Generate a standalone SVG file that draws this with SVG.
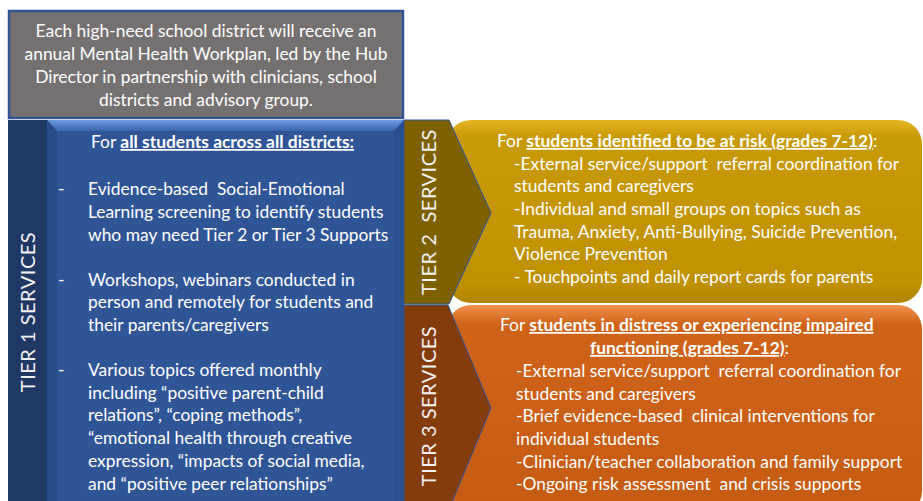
<svg xmlns="http://www.w3.org/2000/svg" width="923" height="501" viewBox="0 0 923 501">
<defs>
<style>
text{font-family:Lato,"Liberation Sans",sans-serif;fill:#ffffff;white-space:pre;}
.b{font-size:17.4px;}
.h{font-size:17.4px;}
.u{font-weight:bold;text-decoration:underline;}
.tier{font-size:20px;fill:#f2f2f2;letter-spacing:0.5px;}
</style>
<linearGradient id="gold" x1="0" y1="0" x2="0" y2="1">
<stop offset="0" stop-color="#e6b524"/>
<stop offset="0.09" stop-color="#c99a08"/>
<stop offset="0.9" stop-color="#bf9000"/>
<stop offset="1" stop-color="#b08400"/>
</linearGradient>
<linearGradient id="orange" x1="0" y1="0" x2="0" y2="1">
<stop offset="0" stop-color="#f2914a"/>
<stop offset="0.09" stop-color="#cf6419"/>
<stop offset="1" stop-color="#c55a11"/>
</linearGradient>
<linearGradient id="bevelTop" x1="0" y1="0" x2="0" y2="1">
<stop offset="0" stop-color="#6f9be0"/>
<stop offset="1" stop-color="#3a64ad"/>
</linearGradient>
</defs>
<g id="header"><rect x="9" y="11" width="394" height="107" fill="#767171" stroke="#2f5597" stroke-width="2.5"/><text class="h" text-anchor="middle" x="206" y="37">Each high-need school district will receive an</text><text class="h" text-anchor="middle" x="206" y="60">annual Mental Health Workplan, led by the Hub</text><text class="h" text-anchor="middle" x="206" y="83">Director in partnership with clinicians, school</text><text class="h" text-anchor="middle" x="206" y="106">districts and advisory group.</text></g>
<g id="tier3"><rect x="447" y="305" width="475" height="210" rx="24" fill="url(#orange)"/><polygon points="404,305 448,305 491,408 448,512 404,512" fill="#843c0c" stroke="#2f5597" stroke-width="1"/><text class="tier" transform="translate(436,406) rotate(-90)" text-anchor="middle">TIER 3 SERVICES</text><text class="b" x="500" y="331">For <tspan class="u">students in distress or experiencing impaired</tspan></text><text class="b" x="590" y="354"><tspan class="u">functioning (grades 7-12)</tspan>:</text><text class="b" x="516" y="377">-External service/support  referral coordination for</text><text class="b" x="516" y="400">students and caregivers</text><text class="b" x="516" y="422">-Brief evidence-based  clinical interventions for</text><text class="b" x="516" y="445">individual students</text><text class="b" x="516" y="468">-Clinician/teacher collaboration and family support</text><text class="b" x="516" y="490">-Ongoing risk assessment  and crisis supports</text></g>
<g id="tier2"><rect x="447" y="120" width="475" height="183" rx="24" fill="url(#gold)"/><polygon points="404,120 449,120 491,213 449,304 404,304" fill="#7f6000" stroke="#2f5597" stroke-width="1"/><text class="tier" transform="translate(436,212) rotate(-90)" text-anchor="middle">TIER 2  SERVICES</text><text class="b" x="497" y="147">For <tspan class="u">students identified to be at risk (grades 7-12)</tspan>:</text><text class="b" x="514" y="170">-External service/support  referral coordination for</text><text class="b" x="514" y="192">students and caregivers</text><text class="b" x="514" y="215">-Individual and small groups on topics such as</text><text class="b" x="514" y="238">Trauma, Anxiety, Anti-Bullying, Suicide Prevention,</text><text class="b" x="514" y="260">Violence Prevention</text><text class="b" x="514" y="283">- Touchpoints and daily report cards for parents</text></g>
<g id="tier1"><rect x="8" y="120" width="39" height="381" fill="#203864"/><rect x="47" y="120" width="357" height="381" fill="#2f5597"/><polygon points="47,120 404,120 394,131 57,131" fill="url(#bevelTop)"/><polygon points="47,120 57,131 57,501 47,501" fill="#294c8a"/><polygon points="404,120 394,131 394,501 404,501" fill="#2b508f"/><text class="tier" transform="translate(35,312) rotate(-90)" text-anchor="middle">TIER 1 SERVICES</text><text class="b" x="91" y="148">For <tspan class="u">all students across all districts:</tspan></text><text class="b" x="58" y="195">-</text><text class="b" x="88" y="195">Evidence-based  Social-Emotional</text><text class="b" x="88" y="218">Learning screening to identify students</text><text class="b" x="88" y="241">who may need Tier 2 or Tier 3 Supports</text><text class="b" x="58" y="286">-</text><text class="b" x="88" y="286">Workshops, webinars conducted in</text><text class="b" x="88" y="308">person and remotely for students and</text><text class="b" x="88" y="331">their parents/caregivers</text><text class="b" x="58" y="376">-</text><text class="b" x="88" y="376">Various topics offered monthly</text><text class="b" x="88" y="399">including “positive parent-child</text><text class="b" x="88" y="421">relations”, “coping methods”,</text><text class="b" x="88" y="444">“emotional health through creative</text><text class="b" x="88" y="467">expression, “impacts of social media,</text><text class="b" x="88" y="490">and “positive peer relationships”</text></g>
</svg>
